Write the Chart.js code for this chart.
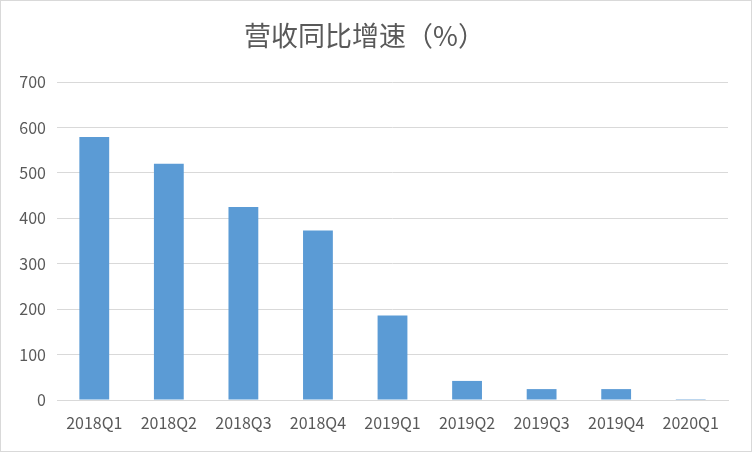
<!DOCTYPE html>
<html>
<head>
<meta charset="utf-8">
<script src="https://cdn.jsdelivr.net/npm/chart.js@4/dist/chart.umd.min.js"></script>
<style>
html,body{margin:0;padding:0;background:#fff;}
#wrap{position:relative;width:750px;height:450px;border:1px solid #d9d9d9;}
canvas{display:block;}
</style>
</head>
<body>
<div id="wrap"><canvas id="c" width="750" height="450"></canvas></div>
<script>
const categories = ["2018Q1","2018Q2","2018Q3","2018Q4","2019Q1","2019Q2","2019Q3","2019Q4","2020Q1"];
const growth = [579, 520, 425, 373, 186, 42, 24, 24, 2];
const yTicks = [0, 100, 200, 300, 400, 500, 600, 700];
const titleText = "营收同比增速（%）";

new Chart(document.getElementById("c"), {
  type: "bar",
  data: {
    labels: categories,
    datasets: [{
      data: growth,
      backgroundColor: "#5B9BD5",
      borderWidth: 0,
      barPercentage: 0.4,
      categoryPercentage: 1.0
    }]
  },
  options: {
    responsive: false,
    animation: false,
    layout: { padding: { left: 0, right: 23, top: 0, bottom: 0 } },
    plugins: {
      legend: { display: false },
      tooltip: { enabled: false },
      title: {
        display: true,
        text: titleText,
        color: "#595959",
        font: { family: "'Noto Sans CJK SC', sans-serif", size: 27, weight: "normal", lineHeight: 1.2 },
        padding: { top: 19, bottom: 29.6 }
      }
    },
    scales: {
      x: {
        grid: { display: false, drawTicks: false },
        border: { display: true, color: "#d9d9d9", width: 1 },
        ticks: {
          color: "#595959",
          font: { family: "'Noto Sans CJK SC', sans-serif", size: 16 },
          padding: 13,
          maxRotation: 0
        },
        afterFit: s => { s.height = 51; }
      },
      y: {
        min: 0, max: 700,
        afterBuildTicks: s => { s.ticks = yTicks.map(v => ({ value: v })); },
        grid: { color: "#d9d9d9", lineWidth: 1, drawTicks: false },
        border: { display: false },
        ticks: {
          color: "#595959",
          font: { family: "'Noto Sans CJK SC', sans-serif", size: 16 },
          padding: 11
        },
        afterFit: s => { s.width = 56; }
      }
    }
  }
});
</script>
</body>
</html>
